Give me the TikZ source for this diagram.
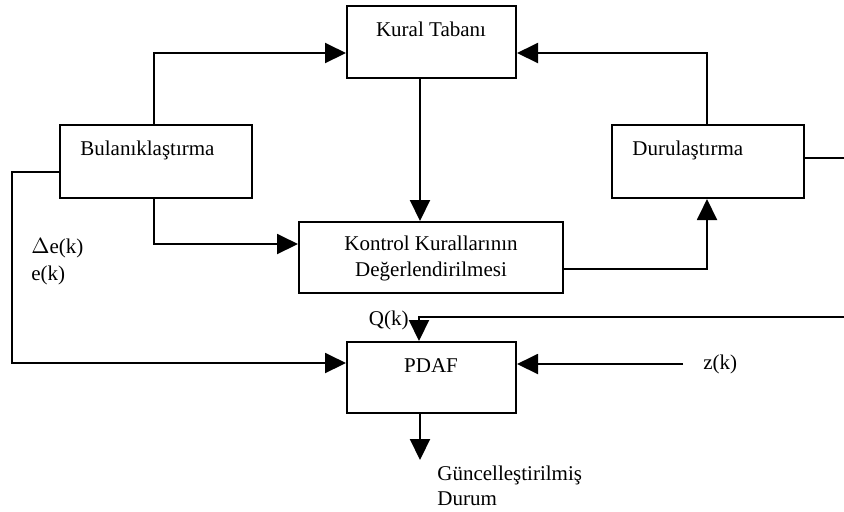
\documentclass[tikz,border=0pt]{standalone}
\usepackage{fontspec}
\setmainfont{Liberation Serif}
\usepackage{tikz}
\usetikzlibrary{arrows.meta}

\begin{document}
\begin{tikzpicture}[x=0.5pt,y=-0.5pt,font=\fontsize{10.5pt}{13pt}\selectfont,
  blok/.style={draw,line width=1pt,inner sep=0pt},
  yazi/.style={inner sep=0pt},
  ok/.style={-{Triangle[length=10.5pt,width=10pt]},line width=1pt}]

\useasboundingbox (0,0) rectangle (844,511);

\node[blok,minimum width=84.5pt,minimum height=36pt] (kural) at (431.5,42) {};
\node[blok,minimum width=96pt,minimum height=36.5pt] (bul) at (156,161.5) {};
\node[blok,minimum width=96pt,minimum height=36.5pt] (dur) at (708,161.5) {};
\node[blok,minimum width=132pt,minimum height=35.5pt] (kontrol) at (431,257.5) {};
\node[blok,minimum width=84.5pt,minimum height=35.5pt] (pdaf) at (431.5,377.5) {};

\node[yazi,anchor=base] (tkural) at (431,36) {Kural Tabanı};
\node[yazi,anchor=base west] (tbul) at (80,155) {Bulanıklaştırma};
\node[yazi,anchor=base west] (tdur) at (632,155) {Durulaştırma};
\node[yazi,anchor=base] (tkontrol) at (431,250) {Kontrol Kurallarının};
\node[yazi,anchor=base] (tdeger) at (431,276) {Değerlendirilmesi};
\node[yazi,anchor=base] (tpdaf) at (431,372) {PDAF};

\node[yazi,anchor=base west] (de) at (31,253) {$\Delta$e(k)};
\node[yazi,anchor=base west] (ek) at (31,280) {e(k)};
\node[yazi,anchor=base east] (qk) at (409,325) {Q(k)};
\node[yazi,anchor=west] (zk) at (703,364) {z(k)};
\node[yazi,anchor=base west] (gunc) at (437,480) {Güncelleştirilmiş};
\node[yazi,anchor=base west] (durum) at (437,505) {Durum};

\coordinate (sagust) at (844,158);
\coordinate (sagalt) at (844,317);
\coordinate (solalt) at (12,363);
\coordinate (cikis) at (420,460);

% kural tabani baglantilari
\draw[ok] ([xshift=-1pt]bul.north) |- ([yshift=-5.5pt]kural.west);
\draw[ok] ([xshift=-0.5pt]dur.north) |- ([yshift=-5.5pt]kural.east);
\draw[ok] ([xshift=-5.75pt]kural.south) -- ([xshift=-5.5pt]kontrol.north);

% kontrol kurallari
\draw[ok] ([xshift=-1pt]bul.south) |- ([yshift=6.75pt]kontrol.west);
\draw[ok] ([yshift=-5.75pt]kontrol.east) -| ([xshift=-0.5pt]dur.south);
\draw[line width=1pt] ([yshift=1.75pt]dur.east) -- (sagust);

% PDAF girisleri
\draw[ok] ([yshift=-5.25pt]bul.west) -| (solalt) -- (solalt -| pdaf.west);
\draw[ok] (sagalt) -| ([xshift=-6.25pt]pdaf.north);
\draw[ok] ([xshift=-10pt]zk.west) -- (zk.west -| pdaf.east);
\draw[ok] ([xshift=-5.75pt]pdaf.south) -- (cikis);

\end{tikzpicture}
\end{document}
